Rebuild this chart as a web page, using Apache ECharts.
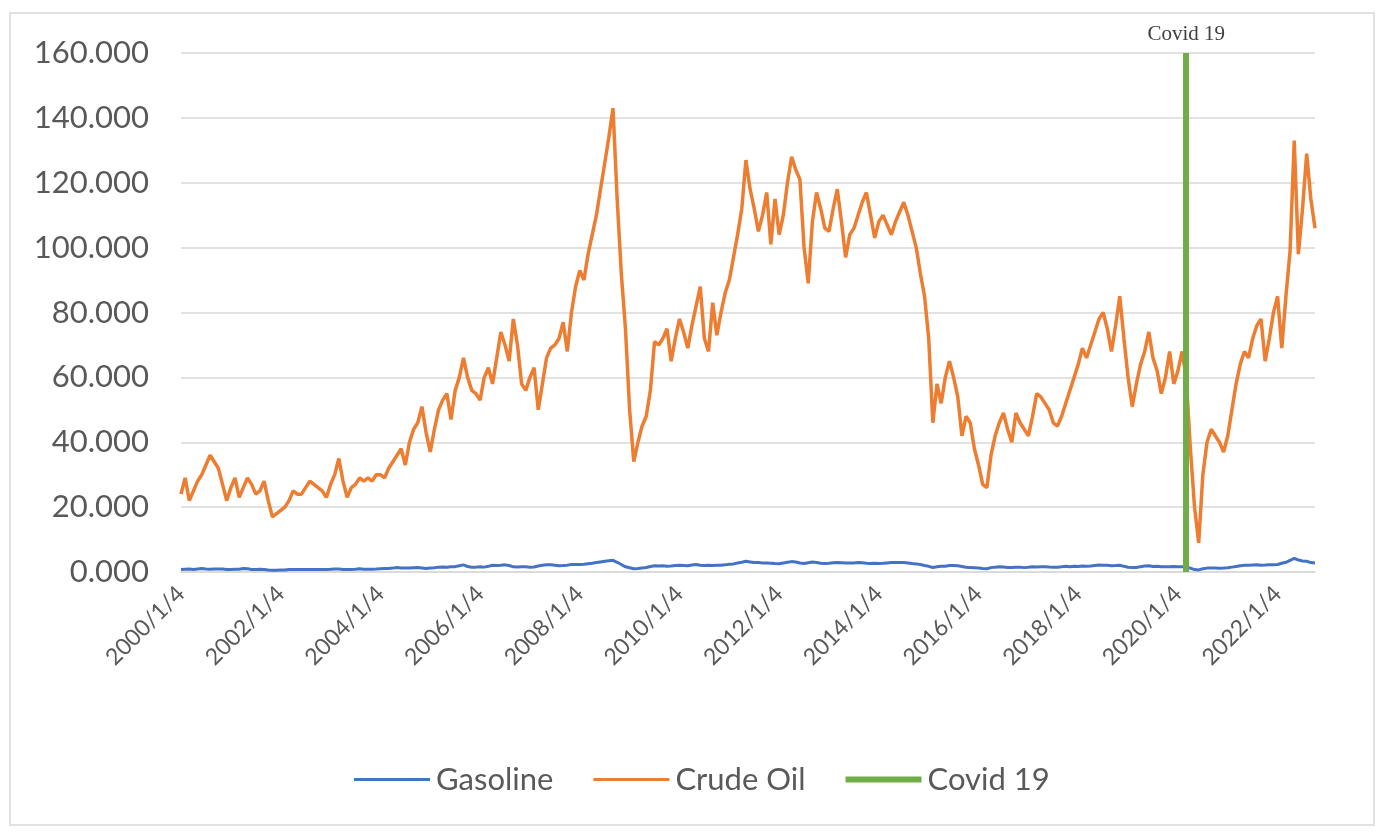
<!DOCTYPE html>
<html>
<head>
<meta charset="utf-8">
<title>Gasoline vs Crude Oil</title>
<script src="https://cdn.jsdelivr.net/npm/echarts@6/dist/echarts.min.js"></script>
<style>
    html, body { margin: 0; padding: 0; background: #fff; }
    #chart { width: 1376px; height: 833px; }
</style>
</head>
<body>
<div id="chart"></div>
<script>
// monthly readings, 2000/1 .. 2022/10
var years = [];
for (var y = 2000; y <= 2022; y++) years.push(y);

var crudeOil = [
    24, 29, 22, 25, 28, 30, 33, 36, 34, 32, 27, 22,
    26, 29, 23, 26, 29, 27, 24, 25, 28, 22, 17, 18,
    19, 20, 22, 25, 24, 24, 26, 28, 27, 26, 25, 23,
    27, 30, 35, 28, 23, 26, 27, 29, 28, 29, 28, 30,
    30, 29, 32, 34, 36, 38, 33, 40, 44, 46, 51, 43,
    37, 44, 50, 53, 55, 47, 56, 60, 66, 60, 56, 55,
    53, 60, 63, 58, 66, 74, 70, 65, 78, 70, 58, 56,
    60, 63, 50, 58, 66, 69, 70, 72, 77, 68, 80, 88,
    93, 90, 98, 104, 110, 118, 126, 134, 143, 115, 92, 75,
    50, 34, 40, 45, 48, 56, 71, 70, 72, 75, 65, 72,
    78, 74, 69, 76, 82, 88, 72, 68, 83, 73, 80, 86,
    90, 97, 104, 112, 127, 118, 112, 105, 110, 117, 101, 115,
    104, 110, 120, 128, 124, 121, 100, 89, 108, 117, 112, 106,
    105, 112, 118, 108, 97, 104, 106, 110, 114, 117, 110, 103,
    108, 110, 107, 104, 108, 111, 114, 110, 105, 100, 92, 85,
    72, 46, 58, 52, 60, 65, 60, 54, 42, 48, 46, 38,
    33, 27, 26, 36, 42, 46, 49, 44, 40, 49, 46, 44,
    42, 48, 55, 54, 52, 50, 46, 45, 48, 52, 56, 60,
    64, 69, 66, 70, 74, 78, 80, 75, 68, 76, 85, 72,
    60, 51, 58, 64, 68, 74, 66, 62, 55, 60, 68, 58,
    62, 68, 60, 38, 20, 9, 30, 40, 44, 42, 40, 37,
    42, 50, 58, 64, 68, 66, 72, 76, 78, 65, 72, 80,
    85, 69, 85, 99, 133, 98, 112, 129, 115, 106
];

var gasoline = [
    0.75, 0.85, 0.95, 0.8, 0.95, 1.05, 0.9, 0.85, 0.95, 0.9, 0.9, 0.75,
    0.8, 0.85, 0.85, 1.05, 1.0, 0.8, 0.75, 0.85, 0.8, 0.65, 0.55, 0.55,
    0.6, 0.6, 0.75, 0.8, 0.8, 0.75, 0.8, 0.8, 0.78, 0.8, 0.75, 0.8,
    0.85, 0.95, 0.95, 0.8, 0.75, 0.8, 0.85, 1.0, 0.85, 0.85, 0.85, 0.9,
    1.0, 1.05, 1.1, 1.2, 1.4, 1.25, 1.25, 1.2, 1.3, 1.4, 1.25, 1.05,
    1.2, 1.3, 1.5, 1.55, 1.45, 1.6, 1.65, 1.95, 2.2, 1.7, 1.45, 1.5,
    1.65, 1.5, 1.75, 2.1, 2.0, 2.05, 2.2, 2.0, 1.6, 1.55, 1.6, 1.6,
    1.45, 1.55, 1.85, 2.1, 2.25, 2.2, 2.1, 1.95, 2.0, 2.1, 2.35, 2.35,
    2.35, 2.4, 2.55, 2.7, 2.9, 3.1, 3.3, 3.45, 3.6, 3.0, 2.3, 1.6,
    1.3, 1.0, 1.1, 1.25, 1.4, 1.7, 1.95, 1.85, 1.95, 1.8, 1.85, 2.0,
    2.05, 2.0, 1.95, 2.15, 2.3, 2.1, 2.0, 2.1, 2.0, 2.05, 2.1, 2.2,
    2.4, 2.5, 2.8, 3.0, 3.3, 3.1, 2.9, 2.95, 2.8, 2.75, 2.7, 2.6,
    2.55, 2.8, 3.0, 3.2, 3.1, 2.8, 2.6, 2.85, 3.05, 2.95, 2.7, 2.65,
    2.7, 2.85, 2.95, 2.85, 2.75, 2.8, 2.8, 2.95, 2.85, 2.7, 2.6, 2.7,
    2.65, 2.7, 2.8, 2.9, 2.95, 2.95, 2.9, 2.75, 2.6, 2.5, 2.3, 2.0,
    1.75, 1.4, 1.6, 1.75, 1.8, 2.0, 2.0, 1.9, 1.7, 1.45, 1.35, 1.3,
    1.25, 1.05, 1.0, 1.35, 1.5, 1.6, 1.55, 1.4, 1.4, 1.45, 1.5, 1.35,
    1.45, 1.6, 1.55, 1.6, 1.65, 1.55, 1.5, 1.5, 1.6, 1.75, 1.65, 1.75,
    1.7, 1.85, 1.8, 1.85, 2.0, 2.15, 2.05, 2.05, 1.95, 2.0, 2.1, 1.75,
    1.45, 1.35, 1.4, 1.65, 1.85, 1.95, 1.7, 1.8, 1.6, 1.65, 1.65, 1.7,
    1.65, 1.6, 1.55, 1.2, 0.75, 0.65, 1.0, 1.2, 1.25, 1.2, 1.15, 1.2,
    1.3, 1.5, 1.7, 1.95, 2.05, 2.1, 2.15, 2.2, 2.1, 2.15, 2.25, 2.2,
    2.3, 2.7, 3.0, 3.6, 4.2, 3.7, 3.4, 3.3, 2.9, 2.8
];

var covidDate = "2020/3/4";
var yTicks = [0, 20, 40, 60, 80, 100, 120, 140, 160];

// categories "YYYY/M/4", one per value
var dates = [];
for (var i = 0; i < years.length; i++) {
    for (var m = 1; m <= 12; m++) {
        if (dates.length < crudeOil.length) {
            dates.push(years[i] + "/" + m + "/4");
        }
    }
}

var textColor = "#595959";
var font = "Lato";
var thinIcon = "path://M0,0H76V3H0Z";
var thickIcon = "path://M0,0H76V6H0Z";

var chart = echarts.init(document.getElementById("chart"));
var option = {
    animation: false,
    backgroundColor: "#fff",
    graphic: [{
        type: "rect",
        shape: {x: 10, y: 13, width: 1364, height: 812},
        style: {fill: "none", stroke: "#e2e2e2", lineWidth: 2},
        z: -1
    }],
    grid: {left: 181, right: 61, top: 53, bottom: 261},
    legend: {
        top: 759,
        left: 349,
        itemWidth: 76,
        itemHeight: 14,
        itemGap: 40,
        symbolKeepAspect: true,
        textStyle: {fontFamily: font, fontSize: 31, color: textColor, padding: [0, 0, 0, 1]},
        data: [
            {name: "Gasoline", icon: thinIcon, itemStyle: {color: "#4472c4"}},
            {name: "Crude Oil", icon: thinIcon, itemStyle: {color: "#ed7d31"}},
            {name: "Covid 19", icon: thickIcon, itemStyle: {color: "#70ad47"}}
        ]
    },
    xAxis: {
        type: "category",
        data: dates,
        boundaryGap: false,
        axisLine: {lineStyle: {color: "#d9d9d9", width: 1.5}},
        axisTick: {show: false},
        axisLabel: {
            interval: 23,
            rotate: 45,
            margin: 18,
            fontFamily: font,
            fontSize: 23,
            color: textColor
        }
    },
    yAxis: {
        type: "value",
        min: yTicks[0],
        max: yTicks[yTicks.length - 1],
        interval: yTicks[1] - yTicks[0],
        axisLine: {show: false},
        axisTick: {show: false},
        splitLine: {lineStyle: {color: "#d9d9d9", width: 1.5}},
        axisLabel: {
            margin: 32,
            fontFamily: font,
            fontSize: 31,
            color: textColor,
            formatter: function (v) { return v.toFixed(3); }
        }
    },
    series: [
        {
            name: "Gasoline",
            type: "line",
            data: gasoline,
            symbol: "none",
            lineStyle: {color: "#4472c4", width: 3},
            itemStyle: {color: "#4472c4"}
        },
        {
            name: "Crude Oil",
            type: "line",
            data: crudeOil,
            symbol: "none",
            lineStyle: {color: "#ed7d31", width: 3.5},
            itemStyle: {color: "#ed7d31"}
        },
        {
            name: "Covid 19",
            type: "line",
            data: [],
            symbol: "none",
            lineStyle: {color: "#70ad47", width: 6},
            itemStyle: {color: "#70ad47"},
            markLine: {
                silent: true,
                symbol: "none",
                lineStyle: {color: "#70ad47", width: 6, type: "solid"},
                label: {
                    show: true,
                    position: "end",
                    formatter: "Covid 19",
                    fontFamily: "Liberation Serif",
                    fontSize: 21,
                    color: "#404040",
                    distance: 8
                },
                data: [[
                    {coord: [covidDate, yTicks[0]]},
                    {coord: [covidDate, yTicks[yTicks.length - 1]]}
                ]]
            }
        }
    ]
};
chart.setOption(option);
</script>
</body>
</html>
